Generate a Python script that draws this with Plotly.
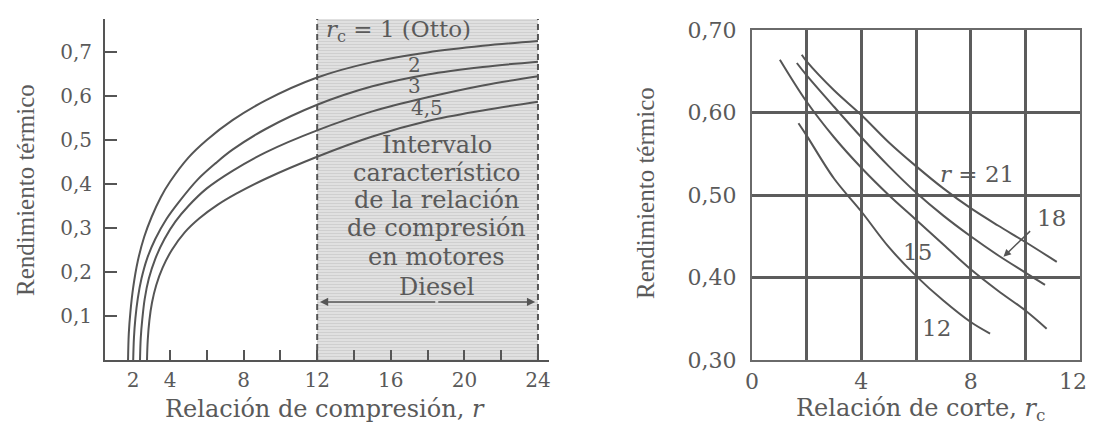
import plotly.graph_objects as go

# ---------------- Left chart data (r vs eta for several cutoff ratios) ----------------
r_otto = [1.72, 1.76, 1.85, 2.0, 2.25, 2.6, 3.0, 3.5, 4.0, 5.0, 6.0, 7.4, 9.2, 12, 15, 18, 21, 24]
eta_otto = [0, 0.06, 0.11, 0.165, 0.225, 0.28, 0.325, 0.37, 0.405, 0.46, 0.50, 0.545, 0.59, 0.642, 0.677, 0.699, 0.714, 0.725]

r_rc2 = [2.0, 2.04, 2.12, 2.25, 2.45, 2.75, 3.2, 3.8, 4.5, 5.5, 6.5, 7.4, 9.2, 12, 15, 18, 21, 24]
eta_rc2 = [0, 0.05, 0.095, 0.14, 0.185, 0.23, 0.275, 0.32, 0.36, 0.41, 0.448, 0.478, 0.525, 0.58, 0.622, 0.649, 0.666, 0.678]

r_rc3 = [2.37, 2.41, 2.5, 2.63, 2.85, 3.2, 3.7, 4.3, 5.0, 6.0, 7.4, 9.2, 12, 15, 18, 21, 24]
eta_rc3 = [0, 0.05, 0.095, 0.14, 0.185, 0.23, 0.275, 0.315, 0.35, 0.39, 0.43, 0.472, 0.522, 0.565, 0.597, 0.624, 0.645]

r_rc45 = [2.75, 2.79, 2.88, 3.02, 3.25, 3.6, 4.1, 4.8, 5.6, 6.6, 7.6, 9.2, 12, 15, 18, 21, 24]
eta_rc45 = [0, 0.045, 0.09, 0.13, 0.17, 0.21, 0.25, 0.29, 0.322, 0.353, 0.378, 0.412, 0.462, 0.508, 0.543, 0.567, 0.587]

left_curves = [(r_otto, eta_otto), (r_rc2, eta_rc2), (r_rc3, eta_rc3), (r_rc45, eta_rc45)]

diesel_range = [12, 24]
left_xtick_vals = [2, 4, 8, 12, 16, 20, 24]
left_xtick_text = ["2", "4", "8", "12", "16", "20", "24"]
left_xminor_vals = [4, 6, 8, 10, 12, 14, 16, 18, 20, 22, 24]
left_ytick_vals = [0.1, 0.2, 0.3, 0.4, 0.5, 0.6, 0.7]
left_ytick_text = ["0,1", "0,2", "0,3", "0,4", "0,5", "0,6", "0,7"]

curve_labels = ["<i>r</i><sub>c</sub> = 1 (Otto)", "2", "3", "4,5"]
curve_label_pos = [(16.4, 0.748), (17.3, 0.671), (17.3, 0.623), (17.95, 0.573)]

interval_lines = ["Intervalo", "característico", "de la relación", "de compresión", "en motores", "Diesel"]
interval_y = [0.489, 0.425, 0.364, 0.300, 0.234, 0.166]
interval_x = 18.5
arrow_y = 0.132

# ---------------- Right chart data (rc vs eta for several compression ratios) ----------------
rc_r21 = [1.82, 2, 3, 4, 5, 6, 7, 8, 9, 10, 11.15]
eta_r21 = [0.670, 0.662, 0.627, 0.597, 0.564, 0.535, 0.508, 0.484, 0.463, 0.443, 0.419]

rc_r18 = [1.64, 2, 3, 4, 5, 6, 7, 8, 9, 10, 10.72]
eta_r18 = [0.660, 0.645, 0.607, 0.570, 0.535, 0.503, 0.475, 0.450, 0.427, 0.406, 0.391]

rc_r15 = [1.02, 2, 3, 4, 5, 6, 7, 8, 9, 10, 10.78]
eta_r15 = [0.664, 0.613, 0.570, 0.533, 0.500, 0.470, 0.440, 0.410, 0.384, 0.360, 0.338]

rc_r12 = [1.70, 2, 3, 4, 5, 6, 7, 8, 8.71]
eta_r12 = [0.587, 0.572, 0.520, 0.480, 0.437, 0.402, 0.372, 0.346, 0.332]

right_curves = [(rc_r21, eta_r21), (rc_r18, eta_r18), (rc_r15, eta_r15), (rc_r12, eta_r12)]

right_xtick_vals = [0, 2, 4, 6, 8, 10, 12]
right_xtick_text = ["0", "", "4", "", "8", "", "12\u00a0\u00a0"]
right_ytick_vals = [0.3, 0.4, 0.5, 0.6, 0.7]
right_ytick_text = ["0,30", "0,40", "0,50", "0,60", "0,70"]

right_labels = ["<i>r</i> = 21", "18", "15", "12"]
right_label_pos = [(8.23, 0.525), (10.97, 0.472), (6.07, 0.431), (6.76, 0.339)]
arrow18_tail = (10.23, 0.458)
arrow18_head = (9.2, 0.425)

# ---------------- Styling ----------------
W, H = 1095, 425
OFF = 8  # page body margin offset
INK = "#555555"
TXT = "#5a5a5a"
SERIF = "DejaVu Serif"
TIMES = "Liberation Serif"


def px_x(p):
    return (p - OFF) / W


def px_y(p):
    return (H + OFF - p) / H


fig = go.Figure()

# shaded Diesel interval
fig.add_trace(go.Bar(
    x=[(diesel_range[0] + diesel_range[1]) / 2], y=[0.775], base=0,
    width=[diesel_range[1] - diesel_range[0]],
    marker=dict(color="#dedede", line=dict(width=0),
                pattern=dict(shape="-", fgcolor="#bcbcbc", bgcolor="#e2e2e2", size=3, solidity=0.4)),
    xaxis="x", yaxis="y", hoverinfo="skip"))

for xs, ys in left_curves:
    fig.add_trace(go.Scatter(x=xs, y=ys, mode="lines", xaxis="x", yaxis="y",
                             line=dict(color=INK, width=2, shape="spline", smoothing=1.0)))

for xs, ys in right_curves:
    fig.add_trace(go.Scatter(x=xs, y=ys, mode="lines", xaxis="x2", yaxis="y2",
                             line=dict(color=INK, width=2, shape="spline", smoothing=1.0)))

shapes = []
for xv in diesel_range:
    shapes.append(dict(type="line", xref="x", yref="y", x0=xv, x1=xv, y0=0, y1=0.775,
                       line=dict(color=INK, width=2, dash="6px,4px")))

annotations = []


def label(text, x, y, xref, yref, size, family=SERIF, angle=0):
    annotations.append(dict(text=text, x=x, y=y, xref=xref, yref=yref, showarrow=False,
                            xanchor="center", yanchor="middle", textangle=angle,
                            font=dict(family=family, size=size, color=TXT)))


for txt, (ax_, ay_) in zip(curve_labels, curve_label_pos):
    label(txt, ax_, ay_, "x", "y", 23 if txt.startswith("<i>") else 20)
for txt, yv in zip(interval_lines, interval_y):
    label(txt, interval_x, yv, "x", "y", 24)
for end in (diesel_range[0] + 0.15, diesel_range[1] - 0.15):
    annotations.append(dict(text="", x=end, y=arrow_y, ax=interval_x, ay=arrow_y,
                            xref="x", yref="y", axref="x", ayref="y", showarrow=True,
                            arrowhead=2, arrowsize=1.1, arrowwidth=1.5, arrowcolor=INK, standoff=0))

for txt, (ax_, ay_) in zip(right_labels, right_label_pos):
    label(txt, ax_, ay_, "x2", "y2", 23)
annotations.append(dict(text="", x=arrow18_head[0], y=arrow18_head[1], ax=arrow18_tail[0], ay=arrow18_tail[1],
                        xref="x2", yref="y2", axref="x2", ayref="y2", showarrow=True,
                        arrowhead=2, arrowsize=1.0, arrowwidth=1.5, arrowcolor=INK, standoff=0))

# axis titles
label("Rendimiento térmico", px_x(25), px_y(190), "paper", "paper", 25, TIMES, -90)
label("Rendimiento térmico", px_x(645), px_y(193), "paper", "paper", 25, TIMES, -90)
label("Relación de compresión, <i>r</i>", px_x(325), px_y(409), "paper", "paper", 24)
label("Relación de corte, <i>r</i><sub>c</sub>", px_x(920), px_y(409), "paper", "paper", 24)

tickfont = dict(family=SERIF, size=20, color=TXT)
rtickfont = dict(family=SERIF, size=22, color=TXT)

fig.update_layout(
    width=W, height=H, autosize=False,
    margin=dict(l=0, r=0, t=0, b=0, pad=0, autoexpand=False),
    paper_bgcolor="white", plot_bgcolor="white", showlegend=False,
    shapes=shapes, annotations=annotations, bargap=0,
    xaxis=dict(domain=[px_x(105), px_x(549)], range=[0.467, 24.6], anchor="y", automargin=False,
               tickmode="array", tickvals=left_xtick_vals, ticktext=left_xtick_text,
               ticks="", showgrid=False, zeroline=False, showline=True, linecolor=INK, linewidth=2,
               tickfont=tickfont, ticklabelstandoff=1,
               minor=dict(tickmode="array", tickvals=left_xminor_vals, ticks="inside", ticklen=10,
                          tickwidth=2, tickcolor=INK, showgrid=False)),
    yaxis=dict(domain=[px_y(360), px_y(19)], range=[0, 0.775], anchor="x", automargin=False,
               tickmode="array", tickvals=left_ytick_vals, ticktext=left_ytick_text,
               ticks="inside", ticklen=12, tickwidth=2, tickcolor=INK,
               showgrid=False, zeroline=False, showline=True, linecolor=INK, linewidth=2,
               tickfont=tickfont, ticklabelstandoff=7),
    xaxis2=dict(domain=[px_x(752), px_x(1080)], range=[0, 12], anchor="y2", automargin=False,
                tickmode="array", tickvals=right_xtick_vals, ticktext=right_xtick_text,
                ticks="", showgrid=True, gridcolor="#5c5c5c", gridwidth=3, zeroline=False,
                showline=True, mirror=True, linecolor="#6a6a6a", linewidth=2,
                tickfont=rtickfont, ticklabelstandoff=1, ticklabeloverflow="allow"),
    yaxis2=dict(domain=[px_y(360), px_y(30)], range=[0.3, 0.7], anchor="x2", automargin=False,
                tickmode="array", tickvals=right_ytick_vals, ticktext=right_ytick_text,
                ticks="", showgrid=True, gridcolor="#5c5c5c", gridwidth=3, zeroline=False,
                showline=True, mirror=True, linecolor="#6a6a6a", linewidth=2,
                tickfont=rtickfont, ticklabelstandoff=9),
)

fig.write_html("out.html")
